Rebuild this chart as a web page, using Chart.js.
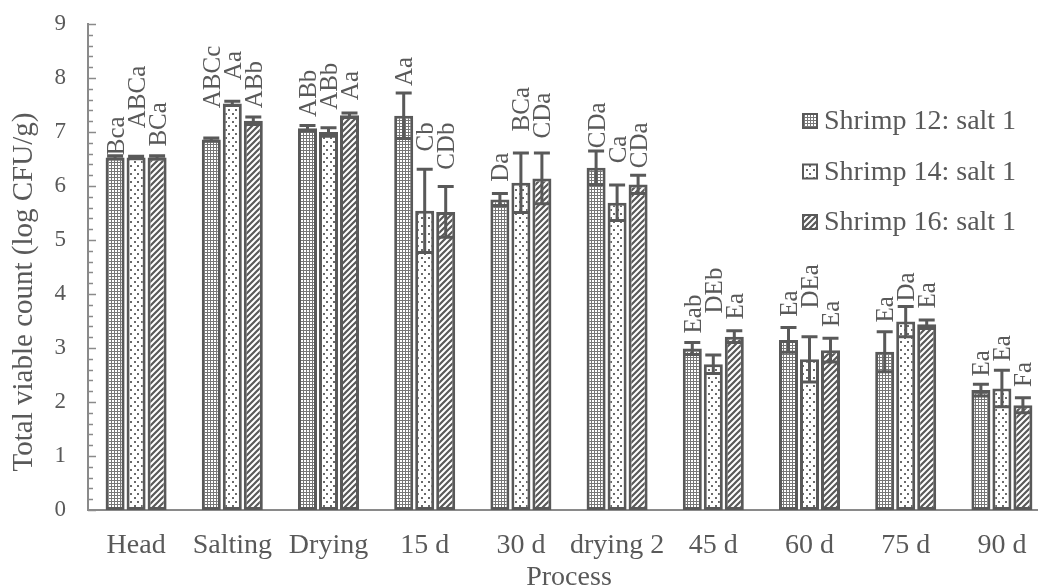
<!DOCTYPE html>
<html>
<head>
<meta charset="utf-8">
<script src="https://cdn.jsdelivr.net/npm/chart.js@4"></script>
<style>
html, body { margin: 0; padding: 0; background: #fff; overflow: hidden; }
#contenedor { width: 1050px; height: 587px; }
</style>
</head>
<body>
<div id="contenedor"><canvas id="grafico" width="1050" height="587"></canvas></div>
<script>
// categorias y series (log CFU/g)
const categorias = ["Head", "Salting", "Drying", "15 d", "30 d", "drying 2", "45 d", "60 d", "75 d", "90 d"];
const nombresSerie = ["Shrimp 12: salt 1", "Shrimp 14: salt 1", "Shrimp 16: salt 1"];

const shrimp12 = [6.53, 6.86, 7.07, 7.30, 5.75, 6.34, 2.99, 3.15, 2.93, 2.22];
const shrimp14 = [6.53, 7.53, 7.00, 5.54, 6.06, 5.69, 2.70, 2.79, 3.49, 2.25];
const shrimp16 = [6.53, 7.21, 7.31, 5.52, 6.14, 6.03, 3.21, 2.96, 3.44, 1.94];

// desviaciones
const error12 = [0.03, 0.03, 0.05, 0.42, 0.11, 0.31, 0.11, 0.23, 0.37, 0.11];
const error14 = [0.02, 0.04, 0.08, 0.77, 0.55, 0.33, 0.17, 0.42, 0.28, 0.34];
const error16 = [0.03, 0.07, 0.04, 0.47, 0.47, 0.17, 0.11, 0.22, 0.08, 0.14];

// letras de significancia y la altura (en log CFU/g) donde empieza cada una
const letras12 = ["Bca", "ABCc", "ABb", "Aa", "Da", "CDa", "Eab", "Ea", "Ea", "Ea"];
const letras14 = ["ABCa", "Aa", "ABb", "Cb", "BCa", "Ca", "DEb", "DEa", "Da", "Ea"];
const letras16 = ["BCa", "ABb", "Aa", "CDb", "CDa", "CDa", "Ea", "Ea", "Ea", "Fa"];
const altura12 = [6.57, 7.44, 7.28, 7.85, 6.08, 6.70, 3.27, 3.58, 3.47, 2.47];
const altura14 = [7.07, 7.96, 7.41, 6.64, 7.01, 6.42, 3.64, 3.73, 3.86, 2.75];
const altura16 = [6.73, 7.44, 7.59, 6.30, 6.88, 6.33, 3.53, 3.39, 3.73, 2.28];

const ticksY = [0, 1, 2, 3, 4, 5, 6, 7, 8, 9];

const fuente = '"Liberation Serif", "Times New Roman", serif';
const gris = "#595959";
const grisEje = "#8a8a8a";

const canvas = document.getElementById("grafico");
const ctx = canvas.getContext("2d");

function crearPatron(tipo) {
    const t = document.createElement("canvas");
    const g = t.getContext("2d");
    if (tipo === 0) {
        t.width = 3; t.height = 3;
        g.fillStyle = "#fff"; g.fillRect(0, 0, 3, 3);
        g.fillStyle = "#767676";
        g.fillRect(0, 0, 3, 1); g.fillRect(0, 0, 1, 3);
    } else if (tipo === 1) {
        t.width = 7; t.height = 8;
        g.fillStyle = "#fff"; g.fillRect(0, 0, 7, 8);
        g.fillStyle = "#6a6a6a";
        g.fillRect(1, 1, 2, 2); g.fillRect(4, 5, 2, 2);
    } else {
        t.width = 6; t.height = 6;
        g.fillStyle = "#fff"; g.fillRect(0, 0, 6, 6);
        g.strokeStyle = gris; g.lineWidth = 2.2;
        g.beginPath();
        g.moveTo(-1, 7); g.lineTo(7, -1);
        g.moveTo(-1, 1); g.lineTo(1, -1);
        g.moveTo(5, 7); g.lineTo(7, 5);
        g.stroke();
    }
    return ctx.createPattern(t, "repeat");
}
const patrones = [crearPatron(0), crearPatron(1), crearPatron(2)];

const marcasEje = {
    id: "marcasEje",
    afterDraw(chart) {
        const y = chart.scales.y;
        const x0 = chart.chartArea.left;
        const c = chart.ctx;
        c.save();
        c.strokeStyle = grisEje;
        c.lineWidth = 1.5;
        for (let k = 0; k <= 45; k++) {
            const py = Math.round(y.getPixelForValue(k / 5)) + 0.5;
            const largo = k % 5 === 0 ? 8 : 5;
            c.beginPath();
            c.moveTo(x0, py);
            c.lineTo(x0 + largo, py);
            c.stroke();
        }
        c.restore();
    }
};

const barrasError = {
    id: "barrasError",
    afterDatasetsDraw(chart) {
        const y = chart.scales.y;
        const c = chart.ctx;
        c.save();
        c.strokeStyle = gris;
        c.lineWidth = 3;
        chart.data.datasets.forEach((ds, i) => {
            chart.getDatasetMeta(i).data.forEach((bar, j) => {
                const v = ds.data[j], e = ds.errores[j];
                const arriba = y.getPixelForValue(v + e);
                const abajo = y.getPixelForValue(v - e);
                c.beginPath();
                c.moveTo(bar.x, arriba); c.lineTo(bar.x, abajo);
                c.moveTo(bar.x - 8, arriba); c.lineTo(bar.x + 8, arriba);
                c.moveTo(bar.x - 8, abajo); c.lineTo(bar.x + 8, abajo);
                c.stroke();
            });
        });
        c.restore();
    }
};

const etiquetas = {
    id: "etiquetas",
    afterDatasetsDraw(chart) {
        const y = chart.scales.y;
        const c = chart.ctx;
        c.save();
        c.fillStyle = gris;
        c.font = "25px " + fuente;
        c.textAlign = "left";
        c.textBaseline = "middle";
        chart.data.datasets.forEach((ds, i) => {
            chart.getDatasetMeta(i).data.forEach((bar, j) => {
                c.save();
                c.translate(bar.x + 2, y.getPixelForValue(ds.alturas[j]));
                c.rotate(-Math.PI / 2);
                c.fillText(ds.letras[j], 0, 0);
                c.restore();
            });
        });
        c.restore();
    }
};

const leyenda = {
    id: "leyenda",
    afterDraw(chart) {
        const c = chart.ctx;
        const a = chart.chartArea;
        c.save();
        c.font = "28px " + fuente;
        c.textBaseline = "middle";
        c.textAlign = "left";
        chart.data.datasets.forEach((ds, i) => {
            const bx = a.left + 715;
            const cy = a.top + 97 + i * 50.5;
            c.fillStyle = patrones[i];
            c.fillRect(bx, cy - 7, 14, 14);
            c.strokeStyle = gris;
            c.lineWidth = 2;
            c.strokeRect(bx, cy - 7, 14, 14);
            c.fillStyle = gris;
            c.fillText(ds.label, bx + 21, cy + 1);
        });
        c.restore();
    }
};

const tituloY = {
    id: "tituloY",
    afterDraw(chart) {
        const c = chart.ctx;
        const a = chart.chartArea;
        c.save();
        c.fillStyle = gris;
        c.font = "29px " + fuente;
        c.textAlign = "center";
        c.textBaseline = "middle";
        c.translate(24, (a.top + a.bottom) / 2 + 25);
        c.rotate(-Math.PI / 2);
        c.fillText("Total viable count (log CFU/g)", 0, 0);
        c.restore();
    }
};

const series = [shrimp12, shrimp14, shrimp16];
const errores = [error12, error14, error16];
const letras = [letras12, letras14, letras16];
const alturas = [altura12, altura14, altura16];

new Chart(ctx, {
    type: "bar",
    data: {
        labels: categorias,
        datasets: series.map((datos, i) => ({
            label: nombresSerie[i],
            data: datos,
            errores: errores[i],
            letras: letras[i],
            alturas: alturas[i],
            backgroundColor: patrones[i],
            borderColor: gris,
            borderWidth: 3,
            borderSkipped: false,
            categoryPercentage: 0.655,
            barPercentage: 0.905
        }))
    },
    options: {
        responsive: false,
        animation: false,
        devicePixelRatio: 1,
        layout: { padding: { top: 24, right: 0, left: 0, bottom: 0 } },
        plugins: {
            legend: { display: false },
            tooltip: { enabled: false }
        },
        scales: {
            x: {
                grid: { display: false, drawTicks: false },
                border: { display: true, color: grisEje, width: 2 },
                ticks: {
                    color: gris,
                    font: { family: fuente, size: 28 },
                    padding: 19,
                    maxRotation: 0,
                    autoSkip: false
                },
                title: {
                    display: true,
                    text: "Process",
                    color: gris,
                    font: { family: fuente, size: 28, lineHeight: 1 },
                    padding: { top: 0, bottom: -5 }
                },
                afterFit(s) { s.height = 77; }
            },
            y: {
                min: 0,
                max: 9,
                grid: { display: false, drawTicks: false },
                border: { display: true, color: grisEje, width: 2 },
                ticks: {
                    stepSize: 1,
                    color: gris,
                    font: { family: fuente, size: 23 },
                    padding: 22,
                    callback: (v) => ticksY.includes(v) ? String(v) : ""
                },
                afterFit(s) {
                    s.width = 88;
                    s.paddingTop = 0;
                    s.paddingBottom = 0;
                }
            }
        }
    },
    plugins: [marcasEje, barrasError, etiquetas, leyenda, tituloY]
});
</script>
</body>
</html>
